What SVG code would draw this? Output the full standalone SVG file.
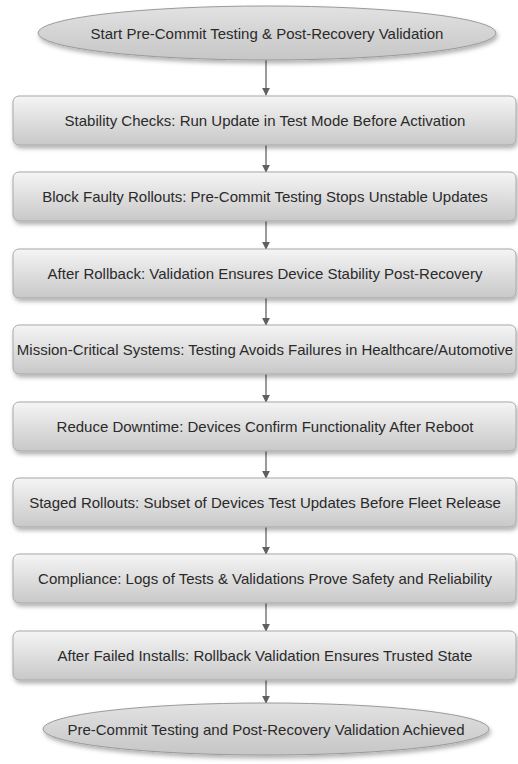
<svg xmlns="http://www.w3.org/2000/svg" width="518" height="764" viewBox="0 0 518 764">
  <defs>
    <linearGradient id="boxFill" x1="0" y1="0" x2="0" y2="1">
      <stop offset="0" stop-color="#f5f5f5"/>
      <stop offset="1" stop-color="#c8c8c8"/>
    </linearGradient>
    <linearGradient id="ovalFill" x1="0" y1="0" x2="0" y2="1">
      <stop offset="0" stop-color="#e2e2e2"/>
      <stop offset="1" stop-color="#c6c6c6"/>
    </linearGradient>
    <filter id="shadow" x="-5%" y="-20%" width="115%" height="160%">
      <feDropShadow dx="1.5" dy="3" stdDeviation="2" flood-color="#000" flood-opacity="0.3"/>
    </filter>
    <marker id="arrow" viewBox="0 0 10 10" refX="9" refY="5" markerWidth="8" markerHeight="8" markerUnits="userSpaceOnUse" orient="auto">
      <path d="M0,0 L10,5 L0,10 z" fill="#606060"/>
    </marker>
  </defs>
  <style>
    .box { fill: url(#boxFill); stroke: #a8a8a8; stroke-width: 1; filter: url(#shadow); }
    .oval { fill: url(#ovalFill); stroke: #9a9a9a; stroke-width: 1; filter: url(#shadow); }
    .label { font-family: "Liberation Sans", Arial, sans-serif; font-size: 15px; fill: #2a2a2a; text-anchor: middle; dominant-baseline: central; }
    .edge { stroke: #7a7a7a; stroke-width: 1.5; fill: none; marker-end: url(#arrow); }
  </style>

  <!-- connectors -->
  <g id="connectors">
    <line class="edge" x1="266" y1="60" x2="266" y2="95"/>
    <line class="edge" x1="266" y1="145" x2="266" y2="172"/>
    <line class="edge" x1="266" y1="221" x2="266" y2="249"/>
    <line class="edge" x1="266" y1="298" x2="266" y2="325"/>
    <line class="edge" x1="266" y1="374" x2="266" y2="402"/>
    <line class="edge" x1="266" y1="450" x2="266" y2="478"/>
    <line class="edge" x1="266" y1="527" x2="266" y2="554"/>
    <line class="edge" x1="266" y1="603" x2="266" y2="631"/>
    <line class="edge" x1="266" y1="679" x2="266" y2="703"/>
  </g>

  <g id="start">
    <ellipse class="oval" cx="267" cy="33" rx="229" ry="27"/>
    <text class="label" x="267" y="33">Start Pre-Commit Testing &amp; Post-Recovery Validation</text>
  </g>

  <g id="stability">
    <rect class="box" x="13" y="96" width="503" height="49" rx="6"/>
    <text class="label" x="265" y="120.5">Stability Checks: Run Update in Test Mode Before Activation</text>
  </g>

  <g id="block">
    <rect class="box" x="13" y="172" width="503" height="49" rx="6"/>
    <text class="label" x="265" y="196.5">Block Faulty Rollouts: Pre-Commit Testing Stops Unstable Updates</text>
  </g>

  <g id="rollback">
    <rect class="box" x="13" y="249" width="503" height="49" rx="6"/>
    <text class="label" x="265" y="273.5">After Rollback: Validation Ensures Device Stability Post-Recovery</text>
  </g>

  <g id="mission">
    <rect class="box" x="13" y="325" width="503" height="49" rx="6"/>
    <text class="label" x="265" y="349.5">Mission-Critical Systems: Testing Avoids Failures in Healthcare/Automotive</text>
  </g>

  <g id="downtime">
    <rect class="box" x="13" y="402" width="503" height="49" rx="6"/>
    <text class="label" x="265" y="426.5">Reduce Downtime: Devices Confirm Functionality After Reboot</text>
  </g>

  <g id="staged">
    <rect class="box" x="13" y="478" width="503" height="49" rx="6"/>
    <text class="label" x="265" y="502.5">Staged Rollouts: Subset of Devices Test Updates Before Fleet Release</text>
  </g>

  <g id="compliance">
    <rect class="box" x="13" y="554" width="503" height="49" rx="6"/>
    <text class="label" x="265" y="578.5">Compliance: Logs of Tests &amp; Validations Prove Safety and Reliability</text>
  </g>

  <g id="failed">
    <rect class="box" x="13" y="631" width="503" height="49" rx="6"/>
    <text class="label" x="265" y="655.5">After Failed Installs: Rollback Validation Ensures Trusted State</text>
  </g>

  <g id="end">
    <ellipse class="oval" cx="266" cy="729" rx="223" ry="26"/>
    <text class="label" x="266" y="729">Pre-Commit Testing and Post-Recovery Validation Achieved</text>
  </g>
</svg>
